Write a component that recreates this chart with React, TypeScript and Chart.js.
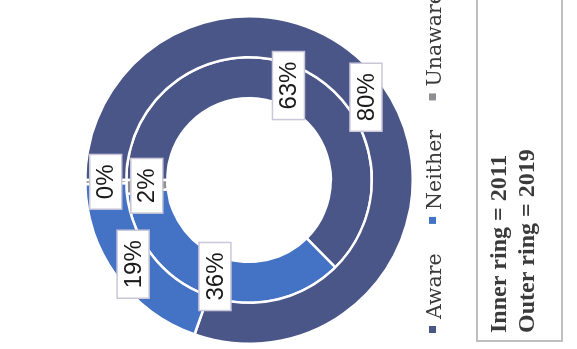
import React, { useEffect, useRef } from 'react';
import { Chart, registerables } from 'chart.js';

Chart.register(...registerables);

const categories = ['Aware', 'Neither', 'Unaware'];
const values2019 = [80.4, 19.2, 0.4]; // outer ring
const values2011 = [62.6, 35.6, 1.8]; // inner ring
const sliceColors = ['#4A5588', '#4472C4', '#8E8E93'];
const noteLines = ['Inner ring = 2011', 'Outer ring = 2019'];

const W0 = 400;
const H0 = 577;

const overlayPlugin = {
  id: 'overlay',
  afterDatasetsDraw(chart: any) {
    const ctx = chart.ctx as CanvasRenderingContext2D;
    ctx.save();
    // data labels
    ctx.font = '24px "Liberation Sans Narrow", "Liberation Sans", Arial, sans-serif';
    ctx.textAlign = 'center';
    ctx.textBaseline = 'middle';
    chart.data.datasets.forEach((ds: any, di: number) => {
      const meta = chart.getDatasetMeta(di);
      const total = ds.data.reduce((a: number, b: number) => a + b, 0);
      meta.data.forEach((arc: any, i: number) => {
        const p = arc.tooltipPosition();
        const txt = Math.round((ds.data[i] / total) * 100) + '%';
        const w = ctx.measureText(txt).width + 20;
        const h = 32;
        ctx.fillStyle = '#ffffff';
        ctx.fillRect(p.x - w / 2, p.y - h / 2, w, h);
        ctx.strokeStyle = '#C9C7D8';
        ctx.lineWidth = 1.5;
        ctx.strokeRect(p.x - w / 2, p.y - h / 2, w, h);
        ctx.fillStyle = '#1a1a1a';
        ctx.fillText(txt, p.x, p.y + 1);
      });
    });

    // legend
    ctx.textAlign = 'left';
    ctx.textBaseline = 'alphabetic';
    ctx.font = '20.5px "DejaVu Serif", serif';
    let x = 16;
    categories.forEach((c, i) => {
      ctx.fillStyle = sliceColors[i];
      ctx.fillRect(x, 429, 7, 7);
      ctx.fillStyle = '#3a3a3a';
      ctx.fillText(c, x + 14, 441);
      x += 14 + ctx.measureText(c).width + 29.5;
    });

    // note box
    ctx.strokeStyle = '#BFBFBF';
    ctx.lineWidth = 2;
    ctx.strokeRect(8, 477, 500, 85);
    ctx.fillStyle = '#3a3a3a';
    ctx.font = 'bold 24px "Liberation Serif", serif';
    ctx.fillText(noteLines[0], 16, 506);
    ctx.fillText(noteLines[1], 16, 534);
    ctx.restore();
  },
};

export default function App() {
  const ref = useRef<HTMLCanvasElement | null>(null);
  useEffect(() => {
    if (!ref.current) return;
    const chart = new Chart(ref.current, {
      type: 'doughnut',
      data: {
        labels: categories,
        datasets: [
          { label: '2019', data: values2019, backgroundColor: sliceColors, borderColor: '#ffffff', borderWidth: 2.5 },
          { label: '2011', data: values2011, backgroundColor: sliceColors, borderColor: '#ffffff', borderWidth: 2.5 },
        ],
      },
      options: {
        responsive: false,
        animation: false,
        cutout: '50%',
        layout: { padding: { left: 4, right: 66, top: 84, bottom: 163 } },
        plugins: { legend: { display: false }, tooltip: { enabled: false } },
      },
      plugins: [overlayPlugin],
    } as any);
    return () => chart.destroy();
  }, []);

  return (
    <div style={{ position: 'fixed', left: 0, top: 0, width: 577, height: 349, overflow: 'hidden', background: '#fff' }}>
      <div
        style={{
          position: 'absolute',
          left: 0,
          top: 0,
          width: W0,
          height: H0,
          transformOrigin: '0 0',
          transform: 'translate(0px, 349px) rotate(-90deg)',
        }}
      >
        <canvas ref={ref} width={W0} height={H0} style={{ display: 'block' }} />
      </div>
    </div>
  );
}
